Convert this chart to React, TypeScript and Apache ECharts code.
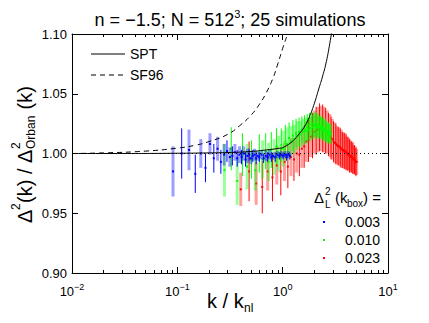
import React, { useEffect, useRef } from 'react';
import * as echarts from 'echarts';

// ---------- data ----------
const titleMain = 'n = −1.5; N = 512';
const titleSup = '3';
const titleTail = '; 25 simulations';

const xMin = 0.01;
const xMax = 10;
const yMin = 0.9;
const yMax = 1.1;
const yInterval = 0.05;

// SPT prediction (solid)
const sptK = [0.01, 0.03, 0.1, 0.2, 0.3, 0.5, 0.7, 0.9, 1.0, 1.15, 1.3, 1.45, 1.6, 1.8, 2.0, 2.2, 2.4, 2.6, 2.8, 3.0, 3.2];
const sptR = [1.0, 1.0, 1.0002, 1.0005, 1.0008, 1.0017, 1.003, 1.0042, 1.005, 1.008, 1.012, 1.017, 1.022, 1.031, 1.042, 1.054, 1.065, 1.077, 1.092, 1.108, 1.125];

// SF96 fit (dashed)
const sf96K = [0.01, 0.02, 0.05, 0.1, 0.15, 0.2, 0.3, 0.4, 0.5, 0.6, 0.7, 0.8, 0.9, 1.0, 1.1, 1.2];
const sf96R = [1.0, 1.0005, 1.002, 1.0045, 1.007, 1.01, 1.016, 1.024, 1.032, 1.041, 1.051, 1.062, 1.075, 1.088, 1.099, 1.112];

// reference level (dotted)
const refK = [0.01, 10];
const refR = [1.0, 1.0];

// Δ²_L(k_box) = 0.003  (blue)
const blueK = [0.091, 0.110, 0.129, 0.148, 0.167, 0.185, 0.204, 0.222, 0.241, 0.259, 0.278, 0.296, 0.315, 0.333, 0.352, 0.370, 0.389, 0.407, 0.426, 0.444, 0.463, 0.481, 0.500, 0.520, 0.540, 0.560, 0.580, 0.600, 0.630, 0.660, 0.690, 0.720, 0.750, 0.780, 0.810, 0.850, 0.890, 0.930, 0.970, 1.010, 1.050, 1.090, 1.130, 1.170];
const blueMean = [0.985, 1.000, 1.003, 0.983, 1.000, 0.988, 1.008, 0.996, 1.004, 0.993, 0.999, 1.002, 0.997, 0.998, 1.001, 0.996, 0.999, 0.997, 1.000, 0.995, 0.998, 0.999, 0.996, 0.998, 0.999, 0.996, 0.998, 0.997, 0.999, 0.996, 0.998, 0.997, 0.999, 0.997, 0.998, 0.997, 0.999, 0.998, 0.999, 0.998, 0.999, 0.997, 0.999, 0.998];
const blueErr = [0.021, 0.021, 0.017, 0.016, 0.012, 0.012, 0.009, 0.012, 0.010, 0.010, 0.009, 0.009, 0.008, 0.008, 0.007, 0.007, 0.007, 0.006, 0.006, 0.006, 0.006, 0.005, 0.005, 0.005, 0.005, 0.005, 0.004, 0.004, 0.004, 0.004, 0.004, 0.004, 0.004, 0.004, 0.003, 0.004, 0.003, 0.003, 0.003, 0.003, 0.003, 0.003, 0.003, 0.003];

// Δ²_L(k_box) = 0.010  (green)
const greenK = [0.28, 0.325, 0.37, 0.415, 0.46, 0.505, 0.55, 0.60, 0.645, 0.69, 0.735, 0.78, 0.83, 0.875, 0.92, 0.97, 1.01, 1.06, 1.10, 1.15, 1.20, 1.25, 1.29, 1.34, 1.38, 1.43, 1.48, 1.52, 1.57, 1.61, 1.66, 1.71, 1.75, 1.80, 1.84, 1.89, 1.94, 1.98, 2.03, 2.07, 2.12, 2.17, 2.21, 2.26, 2.30, 2.35, 2.40, 2.44, 2.49, 2.53, 2.58, 2.62, 2.67, 2.72, 2.76, 2.81, 2.86];
const greenMean = [0.986, 1.004, 0.977, 0.999, 0.989, 0.995, 0.986, 1.000, 0.995, 1.002, 0.993, 1.003, 0.997, 1.006, 1.000, 1.007, 1.004, 1.010, 1.008, 1.013, 1.010, 1.015, 1.012, 1.017, 1.015, 1.018, 1.016, 1.020, 1.018, 1.021, 1.019, 1.022, 1.020, 1.024, 1.021, 1.025, 1.022, 1.024, 1.023, 1.025, 1.022, 1.024, 1.022, 1.023, 1.021, 1.022, 1.020, 1.021, 1.019, 1.020, 1.018, 1.019, 1.017, 1.018, 1.016, 1.017, 1.016];
const greenErr = [0.022, 0.018, 0.020, 0.018, 0.019, 0.016, 0.017, 0.016, 0.016, 0.015, 0.016, 0.015, 0.015, 0.015, 0.015, 0.014, 0.015, 0.014, 0.014, 0.013, 0.013, 0.013, 0.012, 0.012, 0.012, 0.012, 0.011, 0.011, 0.011, 0.011, 0.011, 0.011, 0.010, 0.010, 0.010, 0.010, 0.010, 0.010, 0.010, 0.010, 0.010, 0.010, 0.009, 0.009, 0.009, 0.009, 0.009, 0.009, 0.009, 0.009, 0.009, 0.008, 0.008, 0.008, 0.008, 0.008, 0.008];

// Δ²_L(k_box) = 0.023  (red)
const redK = [0.40, 0.48, 0.56, 0.64, 0.72, 0.80, 0.88, 0.96, 1.04, 1.12, 1.20, 1.28, 1.36, 1.44, 1.52, 1.60, 1.68, 1.76, 1.84, 1.92, 2.00, 2.08, 2.16, 2.24, 2.32, 2.40, 2.48, 2.56, 2.64, 2.72, 2.80, 2.88, 2.96, 3.04, 3.12, 3.20, 3.28, 3.36, 3.44, 3.52, 3.60, 3.68, 3.76, 3.84, 3.92, 4.00, 4.08, 4.16, 4.24, 4.32, 4.40, 4.48, 4.56, 4.64, 4.72, 4.80, 4.88, 4.96, 5.04];
const redMean = [0.970, 0.985, 0.975, 0.972, 0.985, 0.980, 0.990, 0.985, 0.993, 0.989, 0.997, 0.995, 1.000, 0.999, 1.004, 1.006, 1.010, 1.011, 1.014, 1.015, 1.018, 1.019, 1.020, 1.022, 1.021, 1.021, 1.020, 1.019, 1.018, 1.016, 1.015, 1.013, 1.012, 1.010, 1.009, 1.008, 1.007, 1.006, 1.006, 1.005, 1.004, 1.003, 1.003, 1.002, 1.002, 1.001, 1.000, 1.000, 0.999, 0.998, 0.998, 0.997, 0.997, 0.996, 0.995, 0.995, 0.994, 0.993, 0.993];
const redErr = [0.014, 0.025, 0.018, 0.022, 0.016, 0.020, 0.016, 0.020, 0.016, 0.018, 0.016, 0.018, 0.016, 0.018, 0.016, 0.018, 0.017, 0.018, 0.017, 0.019, 0.018, 0.020, 0.019, 0.020, 0.019, 0.020, 0.019, 0.019, 0.018, 0.018, 0.018, 0.018, 0.017, 0.017, 0.017, 0.017, 0.016, 0.016, 0.016, 0.016, 0.016, 0.015, 0.015, 0.015, 0.015, 0.015, 0.014, 0.014, 0.014, 0.014, 0.013, 0.013, 0.013, 0.013, 0.012, 0.012, 0.012, 0.012, 0.011];

const legendValues = ['0.003', '0.010', '0.023'];
const legendColors = ['#0000ff', '#00ff00', '#ff0000'];

// ---------- helpers ----------
const FONT = '"Liberation Sans", Arial, Helvetica, sans-serif';

function pairs(xs: number[], ys: number[]) {
  return xs.map((x, i) => [x, ys[i]]);
}

function errData(ks: number[], ms: number[], es: number[], parity: number) {
  const out: number[][] = [];
  ks.forEach((k, i) => {
    if (i % 2 === parity) out.push([k, ms[i], es[i]]);
  });
  return out;
}

function errSeries(data: number[][], barColor: string, barWidth: number, markColor: string) {
  return {
    type: 'custom',
    data,
    encode: { x: 0, y: 1 },
    clip: true,
    silent: true,
    renderItem: (params: any, api: any) => {
      const k = api.value(0);
      const m = api.value(1);
      const e = api.value(2);
      const top = api.coord([k, m + e]);
      const bot = api.coord([k, m - e]);
      const c = api.coord([k, m]);
      return {
        type: 'group',
        children: [
          {
            type: 'line',
            shape: { x1: top[0], y1: top[1], x2: bot[0], y2: bot[1] },
            style: { stroke: barColor, lineWidth: barWidth },
          },
          {
            type: 'rect',
            shape: { x: c[0] - 1, y: c[1] - 1, width: 2, height: 2 },
            style: { fill: markColor },
          },
        ],
      };
    },
  };
}

function logLabel(v: number) {
  const e = Math.round(Math.log10(v));
  const s = e < 0 ? '−' + Math.abs(e) : String(e);
  return '{b|10}{s|' + s + '}';
}

export default function App() {
  const ref = useRef<HTMLDivElement>(null);

  useEffect(() => {
    document.body.style.margin = '0';
    const chart = echarts.init(ref.current!, undefined, { renderer: 'svg' });

    const axisLine = { show: true, lineStyle: { color: '#000', width: 1 } };
    const xCommon = {
      type: 'log',
      logBase: 10,
      min: xMin,
      max: xMax,
      axisLine,
      axisTick: { show: true, inside: true, length: 6, lineStyle: { color: '#000' } },
      minorTick: { show: true, splitNumber: 9, length: 3, lineStyle: { color: '#000' } },
      splitLine: { show: false },
      minorSplitLine: { show: false },
    };
    const yCommon = {
      type: 'value',
      min: yMin,
      max: yMax,
      interval: yInterval,
      axisLine,
      axisTick: { show: true, inside: true, length: 6, lineStyle: { color: '#000' } },
      splitLine: { show: false },
    };

    const option: any = {
      animation: false,
      backgroundColor: '#fff',
      textStyle: { fontFamily: FONT },
      grid: { left: 72, top: 34, right: 41, bottom: 50 },
      xAxis: [
        {
          ...xCommon,
          position: 'bottom',
          axisLabel: {
            show: true,
            margin: 9,
            formatter: logLabel,
            rich: {
              b: { fontSize: 13, lineHeight: 16, color: '#000', fontFamily: FONT, verticalAlign: 'bottom' },
              s: { fontSize: 9, lineHeight: 9, color: '#000', fontFamily: FONT, verticalAlign: 'top' },
            },
          },
        },
        { ...xCommon, position: 'top', axisLabel: { show: false } },
      ],
      yAxis: [
        {
          ...yCommon,
          position: 'left',
          axisLabel: {
            show: true,
            margin: 5,
            fontSize: 13,
            color: '#000',
            fontFamily: FONT,
            formatter: (v: number) => v.toFixed(2),
          },
        },
        { ...yCommon, position: 'right', axisLabel: { show: false } },
      ],
      series: [
        errSeries(errData(redK, redMean, redErr, 0), 'rgba(255,0,0,0.38)', 3, '#ff0000'),
        errSeries(errData(redK, redMean, redErr, 1), '#ff0000', 1, '#ff0000'),
        errSeries(errData(greenK, greenMean, greenErr, 0), 'rgba(0,255,0,0.4)', 3, '#00ff00'),
        errSeries(errData(greenK, greenMean, greenErr, 1), '#00ff00', 1, '#00ff00'),
        errSeries(errData(blueK, blueMean, blueErr, 0), 'rgba(0,0,255,0.38)', 3, '#0000ff'),
        errSeries(errData(blueK, blueMean, blueErr, 1), '#0000ff', 1, '#0000ff'),
        {
          type: 'line',
          data: pairs(refK, refR),
          showSymbol: false,
          silent: true,
          lineStyle: { color: '#000', width: 1, type: [1, 3] },
        },
        {
          type: 'line',
          data: pairs(sptK, sptR),
          smooth: true,
          showSymbol: false,
          silent: true,
          clip: true,
          lineStyle: { color: '#000', width: 1 },
        },
        {
          type: 'line',
          data: pairs(sf96K, sf96R),
          smooth: true,
          showSymbol: false,
          silent: true,
          clip: true,
          lineStyle: { color: '#000', width: 1, type: [5, 4] },
        },
      ],
      graphic: [
        // title
        {
          type: 'text',
          x: 230,
          y: 8,
          style: {
            text: '{a|' + titleMain + '}{b|' + titleSup + '}{a|' + titleTail + '}',
            align: 'center',
            verticalAlign: 'top',
            rich: {
              a: { fontSize: 18, lineHeight: 21, fontFamily: FONT, fill: '#000', verticalAlign: 'bottom' },
              b: { fontSize: 11, lineHeight: 11, fontFamily: FONT, fill: '#000', verticalAlign: 'top' },
            },
          },
        },
        // y axis name
        {
          type: 'group',
          x: 25,
          y: 153,
          rotation: Math.PI / 2,
          children: [
            { type: 'text', x: -70, y: 0, style: { text: 'Δ', fontSize: 20, fontFamily: FONT, fill: '#000', verticalAlign: 'middle' } },
            { type: 'text', x: -57, y: -9, style: { text: '2', fontSize: 12, fontFamily: FONT, fill: '#000', verticalAlign: 'middle' } },
            { type: 'text', x: -50, y: 0, style: { text: '(k) / Δ', fontSize: 20, fontFamily: FONT, fill: '#000', verticalAlign: 'middle' } },
            { type: 'text', x: 4, y: -9, style: { text: '2', fontSize: 12, fontFamily: FONT, fill: '#000', verticalAlign: 'middle' } },
            { type: 'text', x: 4, y: 6, style: { text: 'Orban', fontSize: 12, fontFamily: FONT, fill: '#000', verticalAlign: 'middle' } },
            { type: 'text', x: 38, y: 0, style: { text: ' (k)', fontSize: 20, fontFamily: FONT, fill: '#000', verticalAlign: 'middle' } },
          ],
        },
        // x axis name
        { type: 'text', x: 207, y: 301, style: { text: 'k / k', fontSize: 20, fontFamily: FONT, fill: '#000', verticalAlign: 'middle' } },
        { type: 'text', x: 244, y: 308, style: { text: 'nl', fontSize: 12, fontFamily: FONT, fill: '#000', verticalAlign: 'middle' } },
        // legend: curves
        { type: 'line', shape: { x1: 91, y1: 54, x2: 125, y2: 54 }, style: { stroke: '#000', lineWidth: 1 } },
        { type: 'text', x: 130, y: 54, style: { text: 'SPT', fontSize: 14, fontFamily: FONT, fill: '#000', verticalAlign: 'middle' } },
        { type: 'line', shape: { x1: 91, y1: 75, x2: 125, y2: 75 }, style: { stroke: '#000', lineWidth: 1, lineDash: [5, 4] } },
        { type: 'text', x: 130, y: 75, style: { text: 'SF96', fontSize: 14, fontFamily: FONT, fill: '#000', verticalAlign: 'middle' } },
        // legend: simulations
        { type: 'text', x: 314, y: 197, style: { text: 'Δ', fontSize: 15, fontFamily: FONT, fill: '#000', verticalAlign: 'middle' } },
        { type: 'text', x: 325, y: 191, style: { text: '2', fontSize: 10, fontFamily: FONT, fill: '#000', verticalAlign: 'middle' } },
        { type: 'text', x: 325, y: 204, style: { text: 'L', fontSize: 10, fontFamily: FONT, fill: '#000', verticalAlign: 'middle' } },
        { type: 'text', x: 335, y: 197, style: { text: '(k', fontSize: 15, fontFamily: FONT, fill: '#000', verticalAlign: 'middle' } },
        { type: 'text', x: 347, y: 203, style: { text: 'box', fontSize: 10, fontFamily: FONT, fill: '#000', verticalAlign: 'middle' } },
        { type: 'text', x: 363, y: 197, style: { text: ') =', fontSize: 15, fontFamily: FONT, fill: '#000', verticalAlign: 'middle' } },
        ...legendValues.flatMap((v, i) => [
          { type: 'rect', shape: { x: 323, y: 221 + i * 18, width: 2, height: 2 }, style: { fill: legendColors[i] } },
          { type: 'text', x: 380, y: 222 + i * 18, style: { text: v, fontSize: 14, fontFamily: FONT, fill: '#000', align: 'right', verticalAlign: 'middle' } },
        ]),
      ],
    };

    chart.setOption(option);
    return () => chart.dispose();
  }, []);

  return <div ref={ref} style={{ position: 'fixed', left: 0, top: 0, width: 429, height: 323 }} />;
}
